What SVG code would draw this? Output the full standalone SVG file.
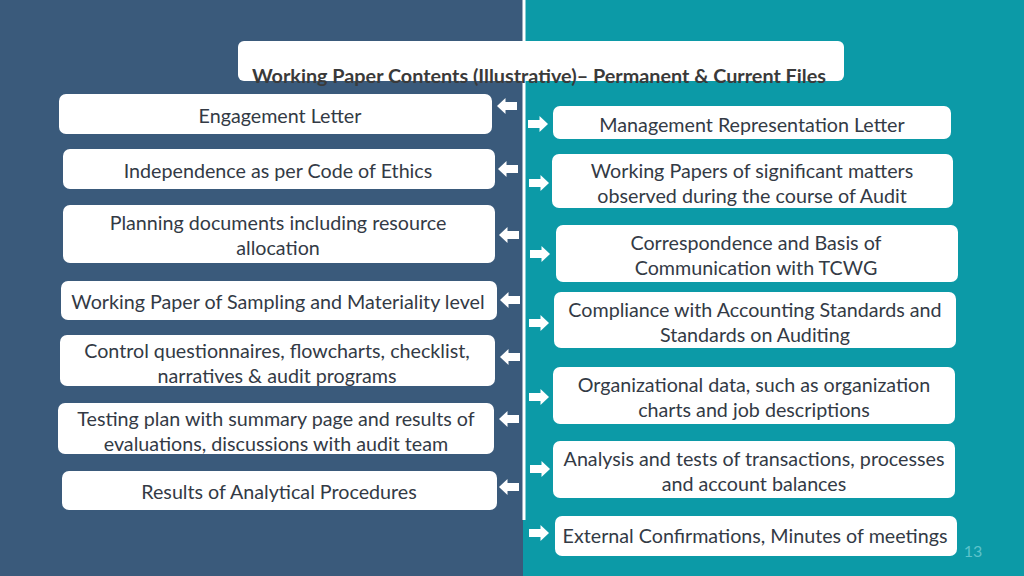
<svg xmlns="http://www.w3.org/2000/svg" xmlns:xlink="http://www.w3.org/1999/xlink" width="1024" height="576" viewBox="0 0 1024 576">
<defs>
<style>
.box{fill:#ffffff;}
.t{font-family:Lato,"Open Sans","Liberation Sans",sans-serif;font-size:19.7px;fill:#333a45;text-anchor:middle;dominant-baseline:central;}
.title{font-family:Lato,"Open Sans","Liberation Sans",sans-serif;font-size:19.8px;font-weight:bold;fill:#3a3a3a;text-anchor:middle;}
.arr{fill:#ffffff;}
.pg{font-family:Lato,"Open Sans","Liberation Sans",sans-serif;font-size:16px;fill:#5cc3cb;text-anchor:middle;dominant-baseline:central;}
</style>
<path id="al" d="M-10,0 L-1.5,-8 L-1.5,-4 L10,-4 L10,4 L-1.5,4 L-1.5,8 Z"/>
<path id="ar" d="M10,0 L1.5,-8 L1.5,-4 L-10,-4 L-10,4 L1.5,4 L1.5,8 Z"/>
</defs>
<g id="background">
<rect x="0" y="0" width="523" height="576" fill="#3a5a7b"/>
<rect x="523" y="0" width="501" height="576" fill="#0c9aa7"/>
<rect x="522.5" y="0" width="3" height="520" fill="#ffffff"/>
</g>
<g id="title">
<rect class="box" x="238" y="41" width="606" height="40" rx="6"/>
<text class="title" x="539" y="83">Working Paper Contents (Illustrative)– Permanent &amp; Current Files</text>
</g>
<g id="L1"><rect class="box" x="59" y="94" width="433" height="40" rx="7"/><text class="t" x="280" y="115">Engagement Letter</text></g>
<g id="L2"><rect class="box" x="63" y="149" width="432" height="40" rx="7"/><text class="t" x="278" y="170">Independence as per Code of Ethics</text></g>
<g id="L3"><rect class="box" x="63" y="205" width="432" height="58" rx="7"/><text class="t" x="278" y="222">Planning documents including resource</text><text class="t" x="278" y="247">allocation</text></g>
<g id="L4"><rect class="box" x="61" y="281" width="436" height="39" rx="7"/><text class="t" x="278" y="301">Working Paper of Sampling and Materiality level</text></g>
<g id="L5"><rect class="box" x="60" y="335" width="435" height="51" rx="7"/><text class="t" x="277" y="350">Control questionnaires, flowcharts, checklist,</text><text class="t" x="277" y="375">narratives &amp; audit programs</text></g>
<g id="L6"><rect class="box" x="58" y="403" width="436" height="51" rx="7"/><text class="t" x="276" y="418">Testing plan with summary page and results of</text><text class="t" x="276" y="443">evaluations, discussions with audit team</text></g>
<g id="L7"><rect class="box" x="62" y="471" width="435" height="39" rx="7"/><text class="t" x="279" y="491">Results of Analytical Procedures</text></g>
<g id="R1"><rect class="box" x="553" y="106" width="398" height="33" rx="7"/><text class="t" x="752" y="124">Management Representation Letter</text></g>
<g id="R2"><rect class="box" x="552" y="154" width="401" height="54" rx="7"/><text class="t" x="752" y="170">Working Papers of significant matters</text><text class="t" x="752" y="195">observed during the course of Audit</text></g>
<g id="R3"><rect class="box" x="556" y="225" width="402" height="57" rx="7"/><text class="t" x="756" y="242">Correspondence and Basis of</text><text class="t" x="756" y="267">Communication with TCWG</text></g>
<g id="R4"><rect class="box" x="554" y="292" width="402" height="56" rx="7"/><text class="t" x="755" y="309">Compliance with Accounting Standards and</text><text class="t" x="755" y="334">Standards on Auditing</text></g>
<g id="R5"><rect class="box" x="553" y="367" width="402" height="57" rx="7"/><text class="t" x="754" y="384">Organizational data, such as organization</text><text class="t" x="754" y="409">charts and job descriptions</text></g>
<g id="R6"><rect class="box" x="553" y="441" width="402" height="57" rx="7"/><text class="t" x="754" y="458">Analysis and tests of transactions, processes</text><text class="t" x="754" y="483">and account balances</text></g>
<g id="R7"><rect class="box" x="555" y="516" width="402" height="40" rx="7"/><text class="t" x="755" y="535">External Confirmations, Minutes of meetings</text></g>
<g id="connectors" class="arr">
<use xlink:href="#al" x="507" y="106"/>
<use xlink:href="#al" x="508" y="169"/>
<use xlink:href="#al" x="509" y="235"/>
<use xlink:href="#al" x="510" y="300"/>
<use xlink:href="#al" x="510" y="357"/>
<use xlink:href="#al" x="509" y="419"/>
<use xlink:href="#al" x="509" y="487"/>
<use xlink:href="#ar" x="538" y="124"/>
<use xlink:href="#ar" x="539" y="183"/>
<use xlink:href="#ar" x="540" y="254"/>
<use xlink:href="#ar" x="539" y="323"/>
<use xlink:href="#ar" x="539" y="397"/>
<use xlink:href="#ar" x="540" y="469"/>
<use xlink:href="#ar" x="539" y="533"/>
</g>
<text class="pg" x="973" y="550">13</text>
</svg>
